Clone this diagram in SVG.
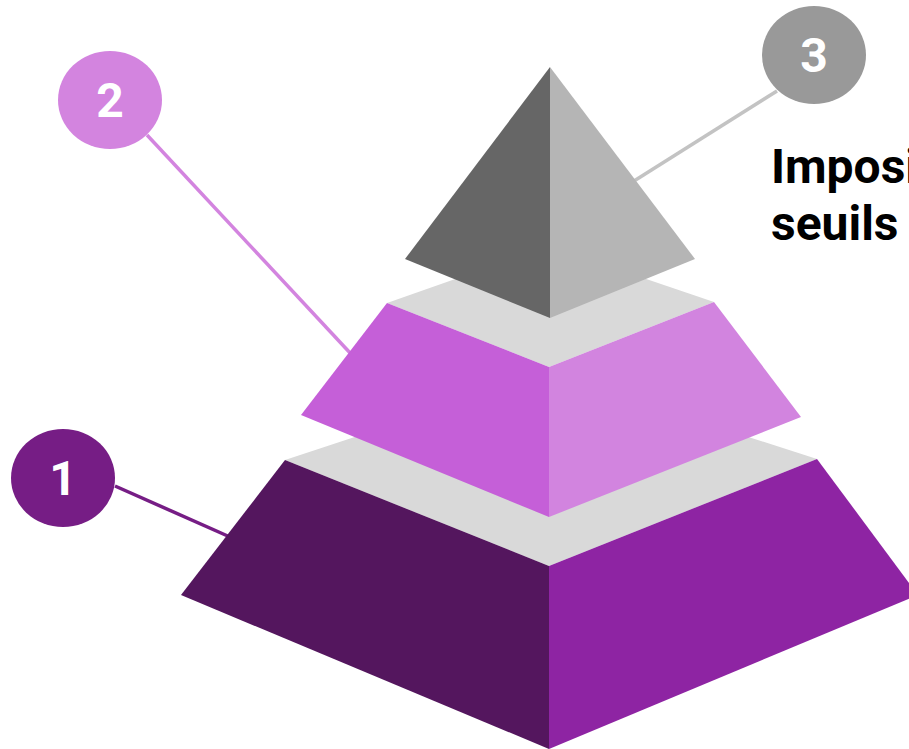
<svg xmlns="http://www.w3.org/2000/svg" width="909" height="749" viewBox="0 0 909 749">
<style>
.num{font-family:Roboto,"Liberation Sans",sans-serif;font-weight:700;font-size:48px;fill:#ffffff;text-anchor:middle}
.lbl{font-family:Roboto,"Liberation Sans",sans-serif;font-weight:700;font-size:48px;fill:#000000}
.band{fill:#d9d9d9}
</style>
<rect width="909" height="749" fill="#ffffff"/>
<g id="connectors" stroke-width="3.5" fill="none">
<line x1="115" y1="486" x2="230" y2="537" stroke="#761d85"/>
<line x1="147" y1="135" x2="352" y2="355" stroke="#d384df"/>
<line x1="777" y1="91" x2="634" y2="181" stroke="#c3c3c3"/>
</g>
<g id="tier1">
<polygon class="band" points="285,460 549,373 817,459 549,566"/>
<polygon points="285,460 549,566 549,749 181,595" fill="#54165e"/>
<polygon points="549,566 817,459 918,595 549,749" fill="#8e24a3"/>
</g>
<g id="tier2">
<polygon class="band" points="387,303 549,246 714,302 549,367"/>
<polygon points="387,303 549,367 549,517 301,415" fill="#c55fd8"/>
<polygon points="549,367 714,302 801,417 549,517" fill="#d284df"/>
</g>
<g id="tier3">
<polygon points="550,67 550,318 405,259" fill="#666666"/>
<polygon points="550,67 695,259 550,318" fill="#b5b5b5"/>
</g>
<g id="badge1">
<ellipse cx="63" cy="478" rx="52" ry="49" fill="#761d85"/>
<text class="num" x="63" y="495">1</text>
</g>
<g id="badge2">
<ellipse cx="110" cy="100" rx="52" ry="49" fill="#d384df"/>
<text class="num" x="110" y="117">2</text>
</g>
<g id="badge3">
<ellipse cx="814" cy="55" rx="52" ry="49" fill="#999999"/>
<text class="num" x="814" y="72">3</text>
</g>
<g id="label3">
<text class="lbl" x="771" y="183">Imposi</text>
<text class="lbl" x="771" y="240">seuils</text>
</g>
</svg>
